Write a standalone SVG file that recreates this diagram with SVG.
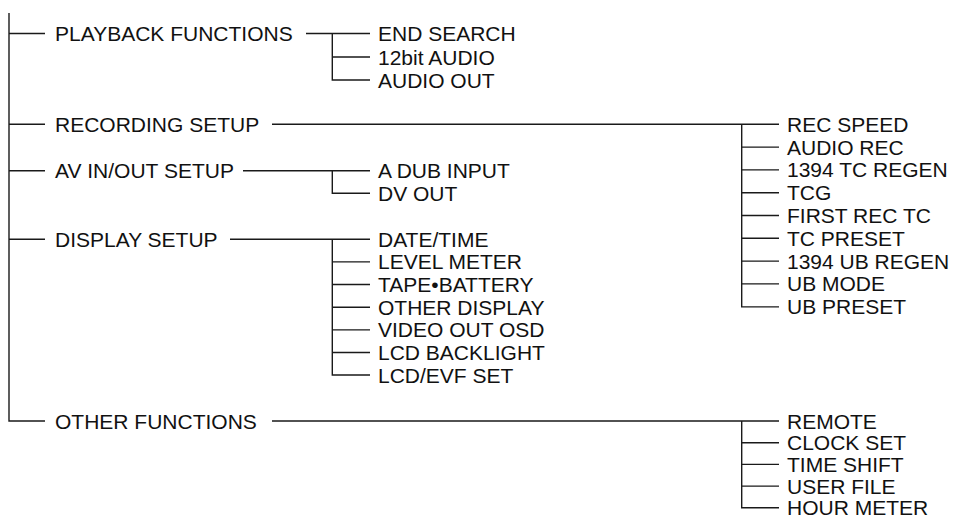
<svg xmlns="http://www.w3.org/2000/svg" width="955" height="519" viewBox="0 0 955 519">
<style>
.c{fill:none;stroke:#1a1a1a;stroke-width:1.4}
text{font-family:"Liberation Sans",Arial,sans-serif;font-size:21px;fill:#111}
</style>
<rect width="955" height="519" fill="#fff"/>
<g id="connectors" class="c">
<path d="M9,13 V421 H45"/>
<path d="M9,33.5 H45 M9,124.3 H45 M9,170.7 H45 M9,239.2 H45"/>
<path d="M306,33.5 H370 M332.3,33.5 V80 H370 M332.3,57 H370"/>
<path d="M272,124.3 H779 M741.7,124.3 V306.9 H779"/>
<path d="M741.7,147.1 H779 M741.7,169.9 H779 M741.7,192.7 H779 M741.7,215.5 H779 M741.7,238.3 H779 M741.7,261.1 H779 M741.7,283.9 H779"/>
<path d="M243,170.7 H370 M332.3,170.7 V193.3 H370"/>
<path d="M230,239.2 H370 M332.3,239.2 V375 H370"/>
<path d="M332.3,261.9 H370 M332.3,284.5 H370 M332.3,307.2 H370 M332.3,329.9 H370 M332.3,352.5 H370"/>
<path d="M272,421 H779 M741.7,421 V507.8 H779"/>
<path d="M741.7,442.7 H779 M741.7,464.4 H779 M741.7,486.1 H779"/>
</g>
<g id="playback"><text x="55" y="41">PLAYBACK FUNCTIONS</text></g>
<g id="playback-items">
<text x="378" y="41">END SEARCH</text>
<text x="378" y="64.5">12bit AUDIO</text>
<text x="378" y="87.5">AUDIO OUT</text>
</g>
<g id="recording"><text x="55" y="131.8">RECORDING SETUP</text></g>
<g id="recording-items">
<text x="787" y="131.8">REC SPEED</text>
<text x="787" y="154.6">AUDIO REC</text>
<text x="787" y="177.4">1394 TC REGEN</text>
<text x="787" y="200.2">TCG</text>
<text x="787" y="223">FIRST REC TC</text>
<text x="787" y="245.8">TC PRESET</text>
<text x="787" y="268.6">1394 UB REGEN</text>
<text x="787" y="291.4">UB MODE</text>
<text x="787" y="314.4">UB PRESET</text>
</g>
<g id="avinout"><text x="55" y="178.2">AV IN/OUT SETUP</text></g>
<g id="avinout-items">
<text x="378" y="178.2">A DUB INPUT</text>
<text x="378" y="200.8">DV OUT</text>
</g>
<g id="display"><text x="55" y="246.7">DISPLAY SETUP</text></g>
<g id="display-items">
<text x="378" y="246.7">DATE/TIME</text>
<text x="378" y="269.4">LEVEL METER</text>
<text x="378" y="292">TAPE•BATTERY</text>
<text x="378" y="314.7">OTHER DISPLAY</text>
<text x="378" y="337.4">VIDEO OUT OSD</text>
<text x="378" y="360">LCD BACKLIGHT</text>
<text x="378" y="382.5">LCD/EVF SET</text>
</g>
<g id="other"><text x="55" y="428.5">OTHER FUNCTIONS</text></g>
<g id="other-items">
<text x="787" y="428.5">REMOTE</text>
<text x="787" y="450.2">CLOCK SET</text>
<text x="787" y="471.9">TIME SHIFT</text>
<text x="787" y="493.6">USER FILE</text>
<text x="787" y="515">HOUR METER</text>
</g>
</svg>
